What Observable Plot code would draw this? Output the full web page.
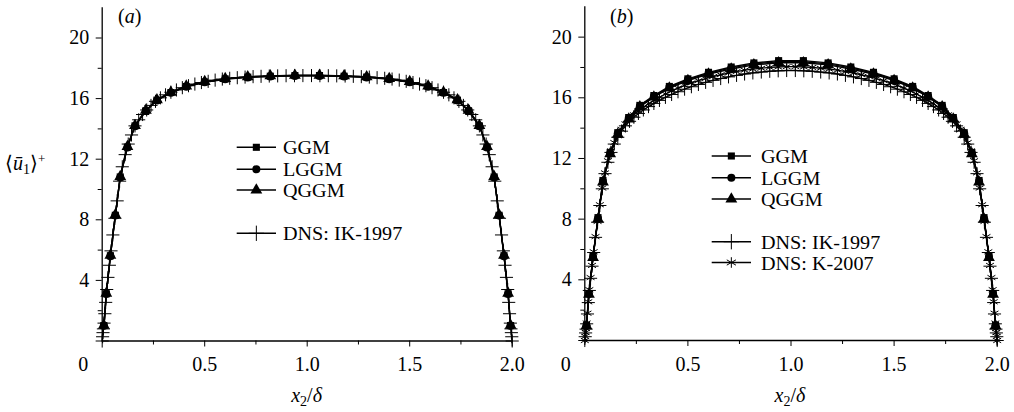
<!DOCTYPE html>
<html><head><meta charset="utf-8">
<script src="https://cdn.jsdelivr.net/npm/d3@7"></script>
<script src="https://cdn.jsdelivr.net/npm/@observablehq/plot@0.6"></script>
<style>
body{margin:0;background:#fff;}
#wrap{position:relative;width:1014px;height:412px;font-family:"Liberation Serif","Times New Roman",serif;color:#000;overflow:hidden;}
.panel{position:absolute;top:0;}
.panel text{font-family:"Liberation Serif","Times New Roman",serif !important;}
.lbl{position:absolute;font-size:20px;white-space:nowrap;line-height:20px;}
.lbl sub{font-size:14px;vertical-align:-4px;line-height:0;}
.lbl sup{font-size:13px;vertical-align:7px;line-height:0;}
.leg{position:absolute;font-size:18px;white-space:nowrap;line-height:18px;height:18px;transform:scale(1.12,1.1);transform-origin:left center;}
</style></head><body><div id="wrap"></div>
<script>
// ---------- data ----------
const seriesNames = ["GGM", "LGGM", "QGGM", "DNS: IK-1997", "DNS: K-2007"];
const yMajor = [4, 8, 12, 16, 20];
const yMinor = [2, 6, 10, 14, 18];
const xMajor = [0.5, 1.0, 1.5, 2.0];
const xMinor = [0.25, 0.75, 1.25, 1.75];

// LES grid (model markers)
const gridX = [0.008, 0.02, 0.04, 0.064, 0.088, 0.123, 0.16, 0.213, 0.267, 0.335, 0.41, 0.5, 0.6, 0.71, 0.82, 0.94,
               1.06, 1.18, 1.29, 1.4, 1.5, 1.59, 1.665, 1.733, 1.787, 1.84, 1.877, 1.912, 1.936, 1.96, 1.98, 1.992];
// panel (a)
const ggmA  = [1.02, 3.12, 5.63, 8.3, 10.83, 12.8, 14.2, 15.2, 15.9, 16.4, 16.8, 17.1, 17.3, 17.42, 17.48, 17.52,
               17.52, 17.48, 17.42, 17.3, 17.1, 16.8, 16.4, 15.9, 15.2, 14.2, 12.8, 10.83, 8.3, 5.63, 3.12, 1.02];
const lggmA = [1.0, 3.1, 5.6, 8.28, 10.8, 12.78, 14.18, 15.18, 15.88, 16.38, 16.78, 17.08, 17.28, 17.4, 17.46, 17.5,
               17.5, 17.46, 17.4, 17.28, 17.08, 16.78, 16.38, 15.88, 15.18, 14.18, 12.78, 10.8, 8.28, 5.6, 3.1, 1.0];
const qggmA = [1.03, 3.14, 5.66, 8.33, 10.86, 12.83, 14.22, 15.22, 15.92, 16.42, 16.82, 17.12, 17.32, 17.44, 17.5, 17.54,
               17.54, 17.5, 17.44, 17.32, 17.12, 16.82, 16.42, 15.92, 15.22, 14.22, 12.83, 10.86, 8.33, 5.66, 3.14, 1.03];
// panel (b)
const ggmB  = [1.0, 3.1, 5.55, 8.1, 10.55, 12.4, 13.7, 14.7, 15.5, 16.15, 16.75, 17.25, 17.68, 18.03, 18.3, 18.45,
               18.45, 18.3, 18.03, 17.68, 17.25, 16.75, 16.15, 15.5, 14.7, 13.7, 12.4, 10.55, 8.1, 5.55, 3.1, 1.0];
const lggmB = [0.98, 3.07, 5.5, 8.05, 10.5, 12.35, 13.65, 14.65, 15.45, 16.1, 16.7, 17.2, 17.62, 17.97, 18.24, 18.38,
               18.38, 18.24, 17.97, 17.62, 17.2, 16.7, 16.1, 15.45, 14.65, 13.65, 12.35, 10.5, 8.05, 5.5, 3.07, 0.98];
const qggmB = [0.97, 3.05, 5.47, 8.0, 10.45, 12.3, 13.6, 14.6, 15.4, 16.05, 16.64, 17.14, 17.56, 17.9, 18.17, 18.31,
               18.31, 18.17, 17.9, 17.56, 17.14, 16.64, 16.05, 15.4, 14.6, 13.6, 12.3, 10.45, 8.0, 5.47, 3.05, 0.97];

// DNS grid
const dnsX = [0.000, 0.002, 0.004, 0.006, 0.009, 0.013, 0.017, 0.022, 0.028, 0.035, 0.043, 0.052, 0.062, 0.073, 0.085,
              0.098, 0.112, 0.127, 0.143, 0.160, 0.178, 0.197, 0.217, 0.238, 0.260, 0.284, 0.309, 0.335, 0.362, 0.391,
              0.421, 0.452, 0.484, 0.517, 0.551, 0.586, 0.622, 0.659, 0.697, 0.736, 0.775, 0.815, 0.856, 0.897, 0.938, 0.979,
              1.021, 1.062, 1.103, 1.144, 1.185, 1.225, 1.264, 1.303, 1.341, 1.378, 1.414, 1.449, 1.483, 1.516, 1.548,
              1.579, 1.609, 1.638, 1.665, 1.691, 1.716, 1.740, 1.762, 1.783, 1.803, 1.822, 1.840, 1.857, 1.873, 1.888,
              1.902, 1.915, 1.927, 1.938, 1.948, 1.957, 1.965, 1.972, 1.978, 1.983, 1.987, 1.991, 1.994, 1.996, 1.998, 2.000];
const ikA = [0.00, 0.28, 0.55, 0.80, 1.18, 1.80, 2.55, 3.40, 4.20, 5.00, 5.95, 7.00, 8.10, 9.25, 10.55,
             11.50, 12.30, 13.00, 13.60, 14.20, 14.60, 14.95, 15.25, 15.55, 15.82, 16.05, 16.25, 16.42, 16.57, 16.72,
             16.85, 16.96, 17.06, 17.14, 17.22, 17.29, 17.34, 17.38, 17.42, 17.45, 17.47, 17.49, 17.50, 17.51, 17.51, 17.52,
             17.52, 17.51, 17.51, 17.50, 17.49, 17.47, 17.45, 17.42, 17.38, 17.34, 17.29, 17.22, 17.14, 17.06, 16.96,
             16.85, 16.72, 16.57, 16.42, 16.25, 16.05, 15.82, 15.55, 15.25, 14.95, 14.60, 14.20, 13.60, 13.00, 12.30,
             11.50, 10.55, 9.25, 8.10, 7.00, 5.95, 5.00, 4.20, 3.40, 2.55, 1.80, 1.18, 0.80, 0.55, 0.28, 0.00];
const ikB = [0, 0.25, 0.5, 0.75, 1.1, 1.75, 2.5, 3.3, 4.1, 4.9, 5.8, 6.8, 7.8, 8.9, 10.0,
             11.0, 11.75, 12.4, 12.95, 13.4, 13.8, 14.15, 14.45, 14.72, 14.97, 15.2, 15.42, 15.63, 15.83, 16.03,
             16.22, 16.4, 16.57, 16.73, 16.88, 17.02, 17.15, 17.27, 17.38, 17.48, 17.57, 17.64, 17.7, 17.75, 17.78, 17.8,
             17.8, 17.78, 17.75, 17.7, 17.64, 17.57, 17.48, 17.38, 17.27, 17.15, 17.02, 16.88, 16.73, 16.57, 16.4,
             16.22, 16.03, 15.83, 15.63, 15.42, 15.2, 14.97, 14.72, 14.45, 14.15, 13.8, 13.4, 12.95, 12.4, 11.75,
             11.0, 10.0, 8.9, 7.8, 6.8, 5.8, 4.9, 4.1, 3.3, 2.5, 1.75, 1.1, 0.75, 0.5, 0.25, 0];
const kB  = [0, 0.27, 0.53, 0.78, 1.15, 1.8, 2.55, 3.35, 4.15, 4.95, 5.85, 6.85, 7.85, 8.95, 10.05,
             11.05, 11.85, 12.5, 13.05, 13.5, 13.92, 14.28, 14.6, 14.88, 15.14, 15.38, 15.61, 15.83, 16.04, 16.25,
             16.45, 16.64, 16.82, 16.98, 17.13, 17.27, 17.4, 17.52, 17.63, 17.73, 17.82, 17.89, 17.95, 18.0, 18.03, 18.05,
             18.05, 18.03, 18.0, 17.95, 17.89, 17.82, 17.73, 17.63, 17.52, 17.4, 17.27, 17.13, 16.98, 16.82, 16.64,
             16.45, 16.25, 16.04, 15.83, 15.61, 15.38, 15.14, 14.88, 14.6, 14.28, 13.92, 13.5, 13.05, 12.5, 11.85,
             11.05, 10.05, 8.95, 7.85, 6.85, 5.85, 4.95, 4.15, 3.35, 2.55, 1.8, 1.15, 0.78, 0.53, 0.27, 0];

// ---------- drawing ----------
const wrap = document.getElementById("wrap");
const pts = (xs, ys) => xs.map((x, i) => ({x, y: ys[i]}));
const FONT = "'Liberation Serif', 'Times New Roman', serif";

function makePanel({left, width, marginLeft, marginRight, marginTop, marginBottom, models, dns}) {
  const marks = [];
  dns.forEach(d => {
    const data = pts(dnsX, d.y);
    marks.push(Plot.line(data, {x: "x", y: "y", stroke: "black", strokeWidth: 1.3}));
    marks.push(Plot.dot(data, {x: "x", y: "y", symbol: d.symbol, r: 4.3, stroke: "black", strokeWidth: 1, fill: "none"}));
  });
  models.forEach(m => {
    const data = pts(gridX, m.y);
    marks.push(Plot.line(data, {x: "x", y: "y", stroke: "black", strokeWidth: 1.4}));
    marks.push(Plot.dot(data, {x: "x", y: "y", symbol: m.symbol, r: m.r, fill: "black", stroke: "none"}));
  });
  const svg = Plot.plot({
    width, height: 412, marginLeft, marginRight, marginTop, marginBottom,
    x: {domain: [0, 2], label: null},
    y: {domain: [0, 22], label: null},
    style: {fontFamily: FONT, fontSize: "20px", color: "black", background: "transparent", overflow: "visible", maxWidth: "none"},
    marks: [
      Plot.axisY({ticks: yMajor, tickSize: 6, tickPadding: 7, label: null, fontSize: 20}),
      Plot.axisY({ticks: yMinor, tickSize: 4, tickFormat: () => "", label: null}),
      Plot.axisX({ticks: xMajor, tickSize: 6, tickPadding: 10, tickFormat: d => d.toFixed(1), label: null, fontSize: 20}),
      Plot.axisX({ticks: xMinor, tickSize: 4, tickFormat: () => "", label: null}),
      Plot.axisX({ticks: [0], tickSize: 0, tickPadding: 16, dx: -19, tickFormat: () => "0", label: null, fontSize: 20}),
      Plot.ruleX([0], {stroke: "black", strokeWidth: 1.3}),
      Plot.ruleY([0], {stroke: "black", strokeWidth: 1.3}),
      ...marks
    ]
  });
  svg.classList.add("panel");
  svg.style.left = left + "px";
  wrap.appendChild(svg);
}

makePanel({
  left: 0, width: 530, marginLeft: 101.7, marginRight: 18.3, marginTop: 7.2, marginBottom: 71.5,
  dns: [{y: ikA, symbol: "plus"}],
  models: [{y: ggmA, symbol: "square", r: 4}, {y: lggmA, symbol: "circle", r: 4}, {y: qggmA, symbol: "triangle", r: 4.4}]
});
makePanel({
  left: 530, width: 484, marginLeft: 54.3, marginRight: 17.3, marginTop: 6.3, marginBottom: 72,
  dns: [{y: ikB, symbol: "plus"}, {y: kB, symbol: "asterisk"}],
  models: [{y: ggmB, symbol: "square", r: 4}, {y: lggmB, symbol: "circle", r: 4}, {y: qggmB, symbol: "triangle", r: 4.4}]
});

// ---------- annotations ----------
function addLabel(html, left, top, cls) {
  const d = document.createElement("div");
  d.className = cls || "lbl";
  d.innerHTML = html;
  d.style.left = left + "px";
  d.style.top = top + "px";
  wrap.appendChild(d);
  return d;
}
addLabel("(<i>a</i>)", 118, 6);
addLabel("(<i>b</i>)", 610, 6);
addLabel("&#x27E8;<i>&#x016B;</i><sub>1</sub>&#x27E9;<sup>+</sup>", 5, 153);
const xl1 = addLabel("<i>x</i><sub>2</sub>/<i>&delta;</i>", 0, 385);
const xl2 = addLabel("<i>x</i><sub>2</sub>/<i>&delta;</i>", 0, 385);
xl1.style.left = (306.7 - xl1.offsetWidth / 2) + "px";
xl2.style.left = (790 - xl2.offsetWidth / 2) + "px";

const ov = d3.select(wrap).append("svg")
  .attr("width", 1014).attr("height", 412)
  .style("position", "absolute").style("left", 0).style("top", 0).style("overflow", "visible");
const symbols = {square: d3.symbolSquare, circle: d3.symbolCircle, triangle: d3.symbolTriangle, plus: d3.symbolPlus, asterisk: d3.symbolAsterisk};
function legend(x0, x1, tx, rows) {
  rows.forEach(r => {
    ov.append("line").attr("x1", x0).attr("x2", x1).attr("y1", r.y).attr("y2", r.y)
      .attr("stroke", "black").attr("stroke-width", 1.4);
    const p = ov.append("path").attr("transform", `translate(${(x0 + x1) / 2},${r.y})`)
      .attr("d", d3.symbol(symbols[r.symbol], Math.PI * r.r * r.r)());
    if (r.filled) p.attr("fill", "black"); else p.attr("fill", "none").attr("stroke", "black").attr("stroke-width", 1);
    addLabel(r.label, tx, r.y - 9, "leg");
  });
}
legend(236.7, 276, 283, [
  {y: 147.3, symbol: "square", r: 4, filled: true, label: seriesNames[0]},
  {y: 169.3, symbol: "circle", r: 4, filled: true, label: seriesNames[1]},
  {y: 190, symbol: "triangle", r: 4.4, filled: true, label: seriesNames[2]},
  {y: 233.3, symbol: "plus", r: 5, filled: false, label: seriesNames[3]}
]);
legend(711.7, 751, 761, [
  {y: 156, symbol: "square", r: 4, filled: true, label: seriesNames[0]},
  {y: 177.7, symbol: "circle", r: 4, filled: true, label: seriesNames[1]},
  {y: 199, symbol: "triangle", r: 4.4, filled: true, label: seriesNames[2]},
  {y: 241.7, symbol: "plus", r: 5, filled: false, label: seriesNames[3]},
  {y: 262.5, symbol: "asterisk", r: 5, filled: false, label: seriesNames[4]}
]);
</script></body></html>
